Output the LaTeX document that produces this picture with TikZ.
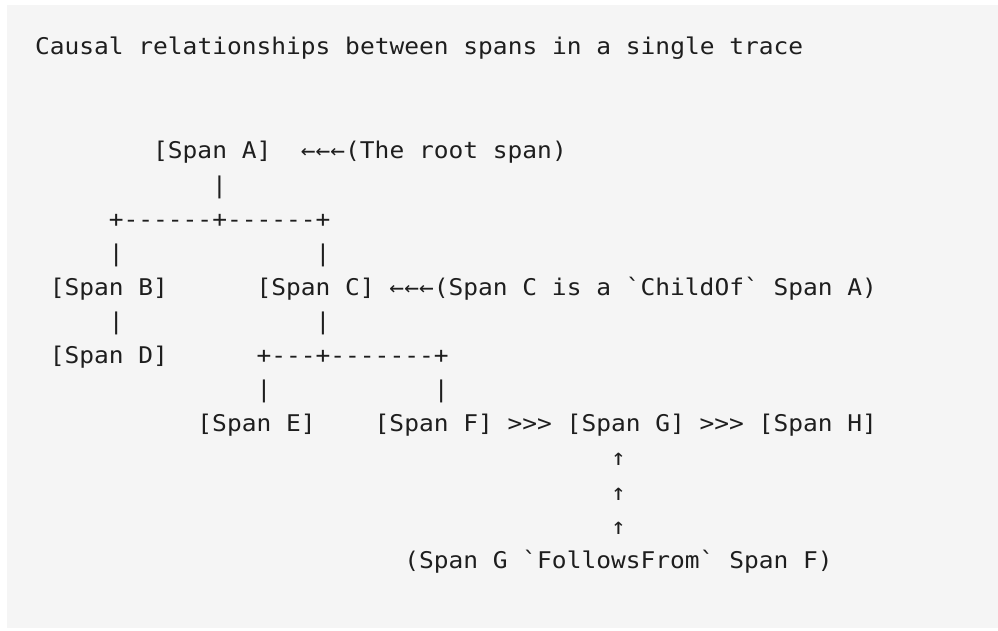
\documentclass[tikz,border=0pt]{standalone}
\usepackage{fontspec}
\setmonofont[FakeStretch=1.067]{DejaVu Sans Mono}
\definecolor{bggray}{HTML}{F5F5F5}
\definecolor{ink}{HTML}{1E1E1E}
\begin{document}
\begin{tikzpicture}[x=1pt,y=-1pt,
  t/.style={anchor=base west, inner sep=0pt, outer sep=0pt,
    font=\ttfamily\fontsize{23}{23}\selectfont, text=ink}]
\useasboundingbox (0,0) rectangle (998,631);
\fill[white] (0,0) rectangle (998,631);
\fill[bggray] (7,5) rectangle (998,628);
% title
\node[t] (title) at ({35+0*14.77},55) {Causal relationships between spans in a single trace};
% row 0
\node[t] (A) at ({35+8*14.77},159) {[Span A]};
\node[t] (Anote) at ({35+18*14.77},159) {←←←(The root span)};
% row 1
\node[t] (A1) at ({35+12*14.77},193.1) {|};
% row 2
\node[t] (Abar) at ({35+5*14.77},227.2) {+------+------+};
% row 3
\node[t] (B0) at ({35+5*14.77},261.3) {|};
\node[t] (C0) at ({35+19*14.77},261.3) {|};
% row 4
\node[t] (B) at ({35+1*14.77},295.4) {[Span B]};
\node[t] (C) at ({35+15*14.77},295.4) {[Span C]};
\node[t] (Cnote) at ({35+24*14.77},295.4) {←←←(Span C is a `ChildOf` Span A)};
% row 5
\node[t] (B1) at ({35+5*14.77},329.5) {|};
\node[t] (C1) at ({35+19*14.77},329.5) {|};
% row 6
\node[t] (D) at ({35+1*14.77},363.6) {[Span D]};
\node[t] (Cbar) at ({35+15*14.77},363.6) {+---+-------+};
% row 7
\node[t] (E0) at ({35+15*14.77},397.7) {|};
\node[t] (F0) at ({35+27*14.77},397.7) {|};
% row 8
\node[t] (E) at ({35+11*14.77},431.8) {[Span E]};
\node[t] (F) at ({35+23*14.77},431.8) {[Span F]};
\node[t] (FG) at ({35+32*14.77},431.8) {>>>};
\node[t] (G) at ({35+36*14.77},431.8) {[Span G]};
\node[t] (GH) at ({35+45*14.77},431.8) {>>>};
\node[t] (H) at ({35+49*14.77},431.8) {[Span H]};
% rows 9-11
\node[t] (up1) at ({35+39*14.77},465.9) {↑};
\node[t] (up2) at ({35+39*14.77},500.0) {↑};
\node[t] (up3) at ({35+39*14.77},534.1) {↑};
% row 12
\node[t] (Gnote) at ({35+25*14.77},568.2) {(Span G `FollowsFrom` Span F)};
\end{tikzpicture}
\end{document}
